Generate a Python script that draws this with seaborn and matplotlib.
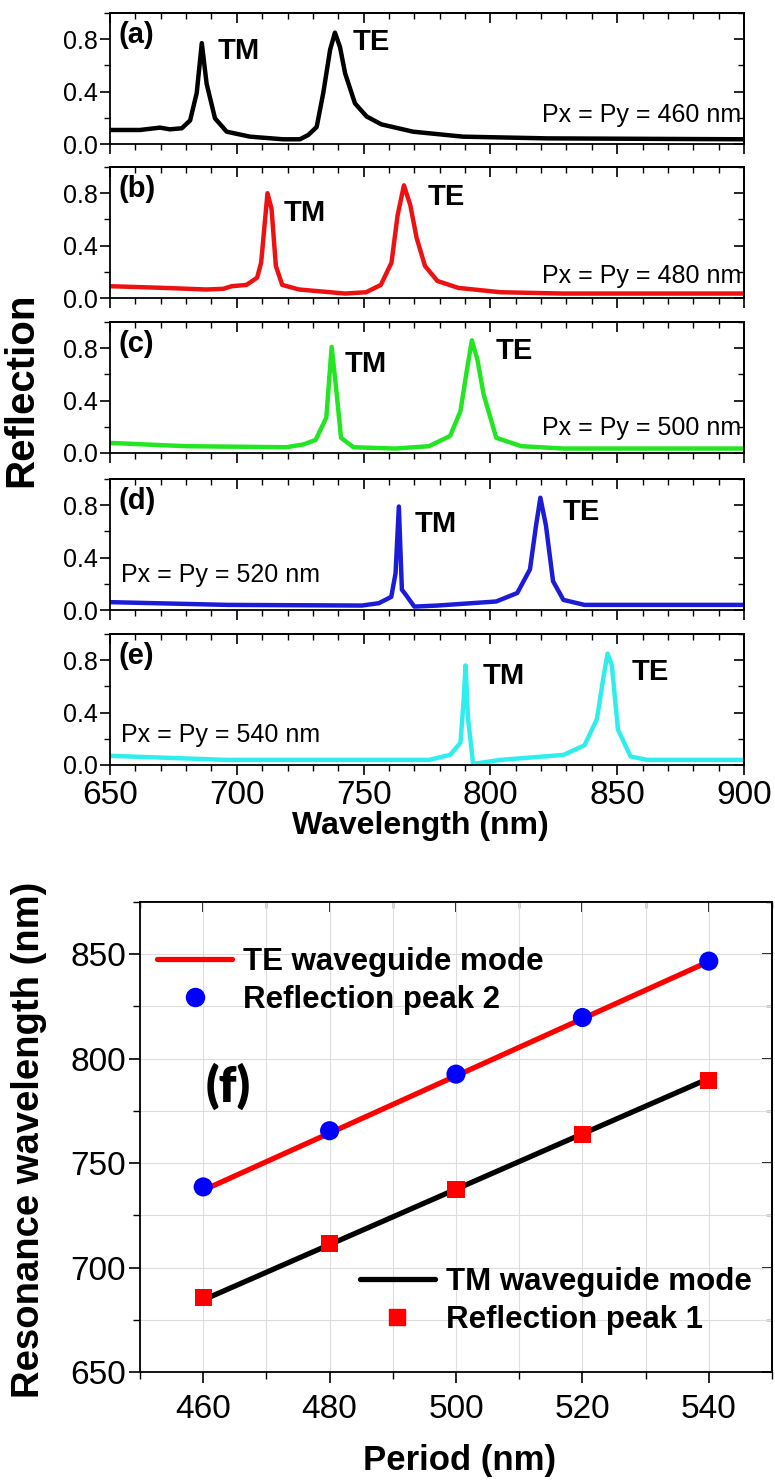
import numpy as np
import pandas as pd
import matplotlib
matplotlib.use("Agg")
import matplotlib.pyplot as plt
from matplotlib.ticker import MultipleLocator
from matplotlib.lines import Line2D
import seaborn as sns

# ---------------- data: reflection spectra (a)-(e) ----------------
wl_a = [650, 661.8, 669.7, 673.6, 678.3, 681.6, 684.2, 686.2, 688.1, 691.4, 696, 705.2, 718.3,
        724.9, 728.2, 731.5, 734.1, 736.8, 738.7, 740.7, 742.7, 746.6, 751.2, 757, 769.5, 789.2, 822.3, 900]
refl_a = [0.107, 0.107, 0.125, 0.112, 0.12, 0.18, 0.39, 0.77, 0.46, 0.196, 0.094, 0.056, 0.036,
          0.036, 0.069, 0.13, 0.39, 0.72, 0.85, 0.74, 0.54, 0.31, 0.21, 0.15, 0.094, 0.056, 0.043, 0.036]

wl_b = [650, 671.5, 688, 694.7, 698, 703.8, 708, 709.6, 712.1, 713.7, 715.4, 717.9, 724.5, 742.7,
        751, 756.8, 761, 763.4, 765.9, 768.4, 770.9, 774.2, 779.1, 787.4, 804, 828.8, 900]
refl_b = [0.09, 0.077, 0.065, 0.07, 0.09, 0.10, 0.155, 0.27, 0.80, 0.68, 0.245, 0.10, 0.065, 0.034,
          0.044, 0.10, 0.27, 0.63, 0.86, 0.71, 0.46, 0.245, 0.13, 0.077, 0.044, 0.034, 0.034]

wl_c = [650, 679.8, 719.5, 726.2, 731.1, 735.3, 737.4, 739.4, 741.1, 746, 762.6, 775.8, 784.1,
        788.2, 790.7, 792.7, 794.9, 797.3, 802.3, 812.2, 828.8, 900]
refl_c = [0.077, 0.052, 0.044, 0.065, 0.10, 0.27, 0.81, 0.45, 0.116, 0.044, 0.034, 0.052, 0.13,
          0.32, 0.63, 0.86, 0.71, 0.45, 0.116, 0.052, 0.034, 0.034]

wl_d = [650, 696.4, 749.3, 756, 760.9, 762.6, 763.9, 765.1, 766.5, 770, 779.1, 802.3, 810.6,
        815.6, 818, 819.7, 821.9, 824.7, 828.8, 837.1, 900]
refl_d = [0.06, 0.039, 0.034, 0.052, 0.10, 0.28, 0.79, 0.155, 0.12, 0.026, 0.034, 0.065, 0.13,
          0.31, 0.645, 0.857, 0.645, 0.22, 0.077, 0.039, 0.039]

wl_e = [650, 696.4, 775.8, 784.1, 788.2, 789.4, 790.2, 791.2, 793.2, 804, 828.8, 837.1, 842,
        844.5, 846.2, 847.9, 850.3, 855.3, 861.9, 900]
refl_e = [0.07, 0.039, 0.039, 0.077, 0.17, 0.48, 0.76, 0.35, 0.008, 0.039, 0.077, 0.15, 0.35,
          0.66, 0.85, 0.76, 0.27, 0.065, 0.039, 0.039]

panel_tags = ["(a)", "(b)", "(c)", "(d)", "(e)"]
period_labels = ["Px = Py = 460 nm", "Px = Py = 480 nm", "Px = Py = 500 nm",
                 "Px = Py = 520 nm", "Px = Py = 540 nm"]
tm_label_pos = [(692.6, 0.71), (718.6, 0.65), (742.7, 0.68), (770.3, 0.66), (797.0, 0.68)]
te_label_pos = [(745.8, 0.78), (775.4, 0.77), (802.0, 0.78), (828.6, 0.75), (855.5, 0.71)]

# ---------------- data: panel (f) ----------------
periods = [460, 480, 500, 520, 540]
peak2_te = [738.6, 765.5, 792.6, 819.7, 846.7]
peak1_tm = [685.9, 711.4, 737.4, 763.6, 789.5]
line_period = [460, 540]
te_mode = [737.0, 846.5]
tm_mode = [684.5, 790.5]

# ---------------- style ----------------
sns.set_style("ticks")
plt.rcParams["font.family"] = ["Liberation Sans", "DejaVu Sans"]
plt.rcParams["axes.linewidth"] = 1.3
plt.rcParams["axes.edgecolor"] = "black"
plt.rcParams["text.color"] = "black"
plt.rcParams["axes.labelcolor"] = "black"
plt.rcParams["xtick.major.width"] = 1.2
plt.rcParams["ytick.major.width"] = 1.2
plt.rcParams["xtick.minor.width"] = 1.0
plt.rcParams["ytick.minor.width"] = 1.0
plt.rcParams["xtick.color"] = "black"
plt.rcParams["ytick.color"] = "black"

W, H = 775, 1481
fig = plt.figure(figsize=(W / 100, H / 100), dpi=100)


def mirror_ticks(ax, xmaj, xmin, ymaj, ymin):
    sx = ax.secondary_xaxis("top")
    sx.xaxis.set_major_locator(MultipleLocator(xmaj))
    sx.xaxis.set_minor_locator(MultipleLocator(xmin))
    sx.tick_params(which="both", direction="in", labeltop=False)
    sx.tick_params(which="major", length=7)
    sx.tick_params(which="minor", length=4)
    sy = ax.secondary_yaxis("right")
    sy.yaxis.set_major_locator(MultipleLocator(ymaj))
    sy.yaxis.set_minor_locator(MultipleLocator(ymin))
    sy.tick_params(which="both", direction="in", labelright=False)
    sy.tick_params(which="major", length=7)
    sy.tick_params(which="minor", length=4)


spectra = [(wl_a, refl_a), (wl_b, refl_b), (wl_c, refl_c), (wl_d, refl_d), (wl_e, refl_e)]
colors = ["#000000", "#ee1111", "#22e622", "#1c1cd8", "#30eeee"]
bottoms_px = [144, 298, 453, 610, 765]
left_px, right_px = 110, 744
ph = 131

for i, ((wl, rf), col) in enumerate(zip(spectra, colors)):
    b = 1 - bottoms_px[i] / H
    ax = fig.add_axes([left_px / W, b, (right_px - left_px) / W, ph / H])
    df = pd.DataFrame({"wl": wl, "R": rf})
    sns.lineplot(data=df, x="wl", y="R", ax=ax, color=col, lw=3.2, estimator=None, sort=False)
    ax.set_xlim(650, 900)
    ax.set_ylim(0, 1.0)
    ax.xaxis.set_major_locator(MultipleLocator(50))
    ax.xaxis.set_minor_locator(MultipleLocator(10))
    ax.yaxis.set_major_locator(MultipleLocator(0.4))
    ax.yaxis.set_minor_locator(MultipleLocator(0.2))
    ax.tick_params(which="both", direction="out")
    ax.tick_params(which="major", length=7)
    ax.tick_params(which="minor", length=4)
    ax.tick_params(axis="y", labelsize=18, pad=2)
    ax.set_yticks([0.0, 0.4, 0.8])
    ax.set_yticklabels(["0.0", "0.4", "0.8"])
    if i < 4:
        ax.tick_params(axis="x", labelbottom=False)
    else:
        ax.tick_params(axis="x", labelsize=24, pad=4)
    ax.set_xlabel("")
    ax.set_ylabel("")
    mirror_ticks(ax, 50, 10, 0.4, 0.2)
    ax.text(653.5, 0.83, panel_tags[i], fontsize=21, fontweight="bold", va="center", ha="left")
    ax.text(tm_label_pos[i][0], tm_label_pos[i][1], "TM", fontsize=21, fontweight="bold",
            va="center", ha="left")
    ax.text(te_label_pos[i][0], te_label_pos[i][1], "TE", fontsize=21, fontweight="bold",
            va="center", ha="left")
    if i < 3:
        ypos = [0.22, 0.17, 0.19][i]
        ax.text(899, ypos, period_labels[i], fontsize=18, va="center", ha="right")
    else:
        ypos = [0.27, 0.23][i - 3]
        ax.text(654.3, ypos, period_labels[i], fontsize=18, va="center", ha="left")

fig.text(0.028, 0.737, "Reflection", rotation=90, fontsize=29, fontweight="bold",
         ha="center", va="center")
fig.text(0.542, 0.4423, "Wavelength (nm)", fontsize=23, fontweight="bold",
         ha="center", va="center")

# ---------------- panel (f) ----------------
axf = fig.add_axes([140 / W, 1 - 1372 / H, (772 - 140) / W, (1372 - 902) / H])
df_te_line = pd.DataFrame({"P": line_period, "wl": te_mode})
df_tm_line = pd.DataFrame({"P": line_period, "wl": tm_mode})
df_p2 = pd.DataFrame({"P": periods, "wl": peak2_te})
df_p1 = pd.DataFrame({"P": periods, "wl": peak1_tm})

sns.lineplot(data=df_te_line, x="P", y="wl", ax=axf, color="#ff0000", lw=3.8, estimator=None, zorder=3)
sns.lineplot(data=df_tm_line, x="P", y="wl", ax=axf, color="#000000", lw=3.8, estimator=None, zorder=3)
sns.scatterplot(data=df_p2, x="P", y="wl", ax=axf, color="#0000ff", marker="o", s=190,
                edgecolor="none", zorder=4)
sns.scatterplot(data=df_p1, x="P", y="wl", ax=axf, color="#ff0000", marker="s", s=150,
                edgecolor="none", zorder=4)

axf.set_xlim(450, 550)
axf.set_ylim(650, 875)
axf.xaxis.set_major_locator(MultipleLocator(20))
axf.xaxis.set_minor_locator(MultipleLocator(10))
axf.yaxis.set_major_locator(MultipleLocator(50))
axf.yaxis.set_minor_locator(MultipleLocator(25))
axf.set_xticks([460, 480, 500, 520, 540])
axf.set_yticks([650, 700, 750, 800, 850])
axf.grid(True, which="both", color="#dddddd", lw=0.8)
axf.set_axisbelow(True)
axf.tick_params(which="both", direction="out")
axf.tick_params(which="major", length=8)
axf.tick_params(which="minor", length=5)
axf.tick_params(axis="both", labelsize=24)
axf.tick_params(axis="x", pad=8)
axf.tick_params(axis="y", pad=2)
axf.set_xlabel("")
axf.set_ylabel("")
mirror_ticks(axf, 20, 10, 50, 25)

axf.text(464, 787, "(f)", fontsize=35, fontweight="heavy", family=["Lato", "DejaVu Sans"],
         ha="center", va="center")

h1 = [Line2D([], [], color="#ff0000", lw=3.8),
      Line2D([], [], color="#0000ff", marker="o", ls="none", markersize=13)]
leg1 = axf.legend(h1, ["TE waveguide mode", "Reflection peak 2"], loc="center left",
                  bbox_to_anchor=(0.027, 0.832), frameon=False,
                  prop={"weight": "bold", "size": 22.5}, handlelength=2.4, handletextpad=0.35,
                  labelspacing=0.25, borderpad=0, borderaxespad=0)
axf.add_artist(leg1)
h2 = [Line2D([], [], color="#000000", lw=3.8),
      Line2D([], [], color="#ff0000", marker="s", ls="none", markersize=11)]
axf.legend(h2, ["TM waveguide mode", "Reflection peak 1"], loc="center left",
           bbox_to_anchor=(0.348, 0.151), frameon=False,
           prop={"weight": "bold", "size": 22.5}, handlelength=2.4, handletextpad=0.35,
           labelspacing=0.25, borderpad=0, borderaxespad=0)

fig.text(0.037, 0.230, "Resonance wavelength (nm)", rotation=90, fontsize=27.5, fontweight="bold",
         ha="center", va="center")
fig.text(0.5935, 0.014, "Period (nm)", fontsize=25, fontweight="bold", ha="center", va="center")

fig.savefig("out.png", dpi=100)
